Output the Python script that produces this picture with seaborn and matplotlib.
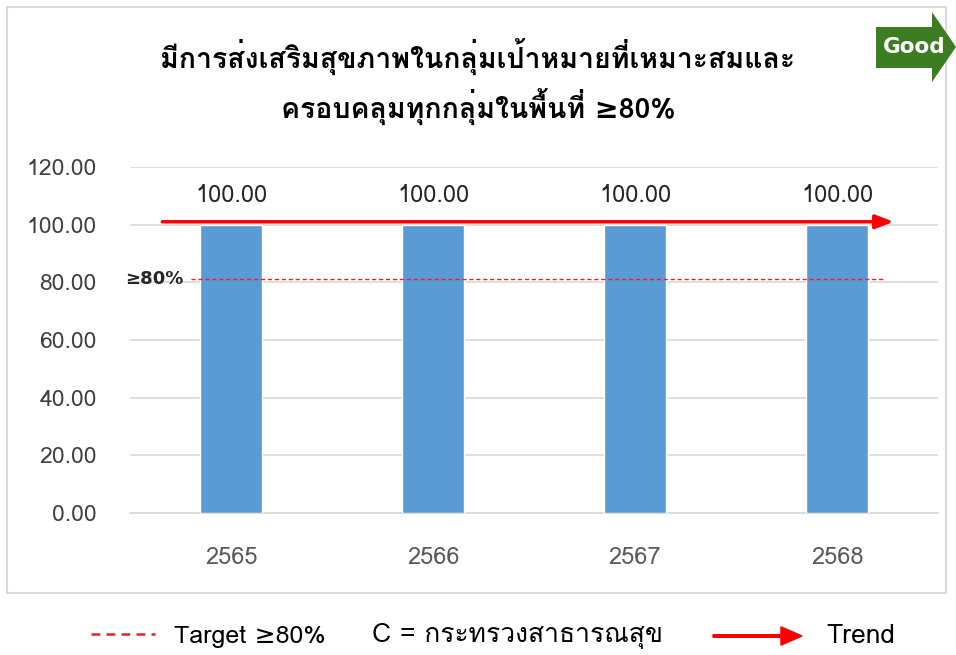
import matplotlib
matplotlib.use("Agg")
import matplotlib.pyplot as plt
import seaborn as sns
import pandas as pd
from matplotlib import font_manager
from matplotlib.ft2font import FT2Font
from matplotlib.patches import Rectangle, FancyArrow, Polygon

years = ["2565", "2566", "2567", "2568"]
values = [100.00, 100.00, 100.00, 100.00]
target = 81.0
trend_level = 101.0
yticks = [0, 20, 40, 60, 80, 100, 120]
title_lines = ["มีการส่งเสริมสุขภาพในกลุ่มเป้าหมายที่เหมาะสมและ", "ครอบคลุมทุกกลุ่มในพื้นที่ ≥80%"]
legend_target = "Target ≥80%"
legend_c = "C = กระทรวงสาธารณสุข"
legend_trend = "Trend"

sns.set_theme(style="white")

# find a font with Thai glyphs (prefer Loma)
thai_families = []
for f in font_manager.fontManager.ttflist:
    try:
        ft = FT2Font(f.fname)
        if ft.get_char_index(ord("ก")) and f.name not in thai_families:
            thai_families.append(f.name)
    except Exception:
        pass
if "Loma" in thai_families:
    thai_families.remove("Loma")
    thai_families.insert(0, "Loma")
fam = thai_families[:1] + ["DejaVu Sans"]
plt.rcParams["font.family"] = fam

fig = plt.figure(figsize=(9.56, 6.55), dpi=100)
W, H = 956, 655

def fx(px):
    return px / W

def fy(py):
    return 1 - py / H

# chart border
fig.patches.append(Rectangle((fx(7), fy(593)), fx(946) - fx(7), fy(7) - fy(593),
                             transform=fig.transFigure, fill=False, edgecolor="#d9d9d9", lw=1.5))

ax = fig.add_axes([fx(130), fy(513), fx(938) - fx(130), fy(167) - fy(513)])
df = pd.DataFrame({"year": years, "value": values})
sns.barplot(data=df, x="year", y="value", color="#5b9bd5", width=0.31, saturation=1, ax=ax, zorder=3)
ax.set_xlim(-0.5, 3.5)
ax.set_ylim(0, 120)
ax.set_yticks(yticks)
ax.set_yticklabels([f"{v:.2f}" for v in yticks], fontsize=16.5, color="#404040")
ax.set_xticks(range(len(years)))
ax.set_xticklabels(years, fontsize=17, color="#595959")
ax.tick_params(axis="y", length=0, pad=24)
ax.tick_params(axis="x", length=0, pad=24)
ax.set_xlabel("")
ax.set_ylabel("")
ax.grid(axis="y", color="#d9d9d9", lw=1.2, zorder=0)
ax.set_axisbelow(True)
for s in ["top", "right", "left"]:
    ax.spines[s].set_visible(False)
ax.spines["bottom"].set_color("#d9d9d9")
ax.spines["bottom"].set_linewidth(1.2)

for i, v in enumerate(values):
    ax.text(i, v + 6, f"{v:.2f}", ha="center", va="bottom", fontsize=17, color="#262626")

# target dashed line
ax.plot([-0.2, 3.24], [target, target], ls=(0, (3, 2)), color="#e8202a", lw=1, zorder=4)
ax.text(-0.525, target, "≥80%", ha="left", va="center", fontsize=13, fontweight="bold",
        color="#262626", family="DejaVu Sans")

# trend arrow
ax.annotate("", xy=(3.28, trend_level), xytext=(-0.34, trend_level),
            arrowprops=dict(arrowstyle="-|>,head_length=0.9,head_width=0.35", color="#ff0000", lw=2.5,
                            shrinkA=0, shrinkB=0), zorder=5)

# title
fig.text(0.5, fy(57), title_lines[0], ha="center", va="center", fontsize=20.5, fontweight="bold", color="#000000")
fig.text(0.5, fy(107), title_lines[1], ha="center", va="center", fontsize=20.5, fontweight="bold", color="#000000")

# Good arrow
good = Polygon([(fx(876), fy(27)), (fx(932), fy(27)), (fx(932), fy(12)), (fx(956), fy(47)),
                (fx(932), fy(82)), (fx(932), fy(68)), (fx(876), fy(68))],
               closed=True, transform=fig.transFigure, facecolor="#3c7d22", edgecolor="none")
fig.patches.append(good)
fig.text(fx(914), fy(47), "Good", ha="center", va="center", fontsize=15.5, fontweight="bold", color="white",
         family="Liberation Sans Narrow")

# bottom legend
fig.add_artist(plt.Line2D([fx(91), fx(155)], [fy(634), fy(634)], ls=(0, (3.5, 2.5)), color="#e8202a",
                          lw=1.8, transform=fig.transFigure))
fig.text(fx(174), fy(636), legend_target, ha="left", va="center", fontsize=18, color="#000000")
fig.text(fx(372), fy(636), legend_c, ha="left", va="center", fontsize=19, color="#000000")
fig.patches.append(FancyArrow(fx(713), fy(636), fx(802) - fx(713), 0, width=0.004, head_width=0.028,
                              head_length=0.022, length_includes_head=True, transform=fig.transFigure,
                              color="#ff0000"))
fig.text(fx(826), fy(636), legend_trend, ha="left", va="center", fontsize=19, color="#000000")

fig.savefig("out.png", dpi=100)
